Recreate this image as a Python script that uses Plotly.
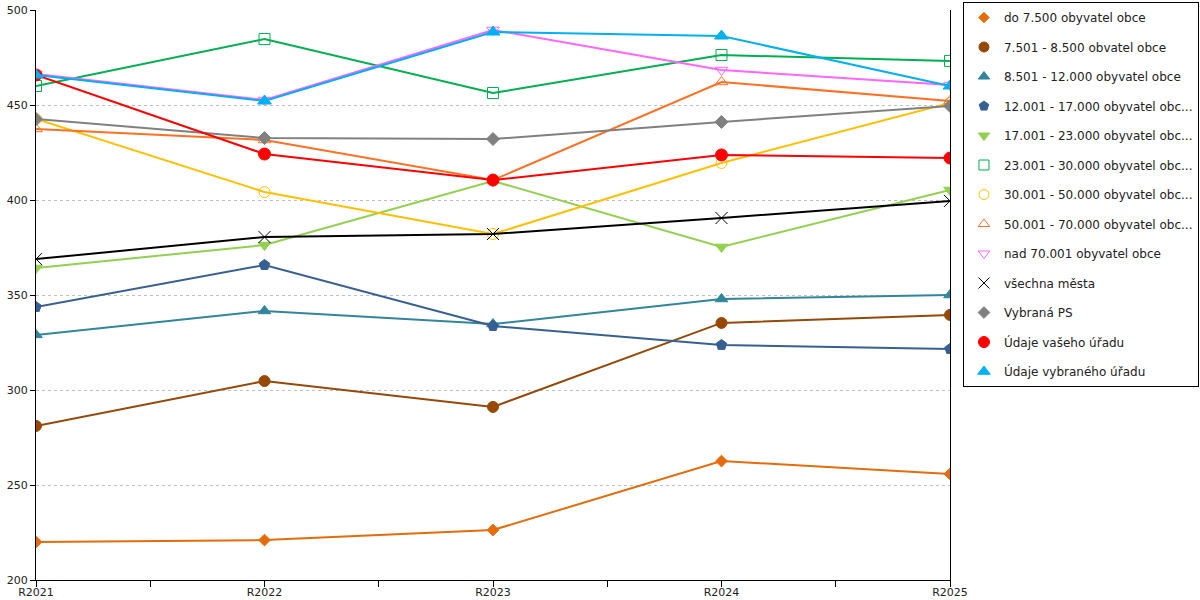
import plotly.graph_objects as go

# categories (years) on the x axis
roky = ["R2021", "R2022", "R2023", "R2024", "R2025"]

# series names as shown in the legend
nazvy = [
    "do 7.500 obyvatel obce",
    "7.501 - 8.500 obvatel obce",
    "8.501 - 12.000 obyvatel obce",
    "12.001 - 17.000 obyvatel obc...",
    "17.001 - 23.000 obyvatel obc...",
    "23.001 - 30.000 obyvatel obc...",
    "30.001 - 50.000 obyvatel obc...",
    "50.001 - 70.000 obyvatel obc...",
    "nad 70.001 obyvatel obce",
    "všechna města",
    "Vybraná PS",
    "Údaje vašeho úřadu",
    "Údaje vybraného úřadu",
]

# values, one list per series
do_7500 = [220.0, 221.0, 226.3, 262.6, 255.8]
od_7501 = [281.1, 304.7, 291.1, 335.3, 339.5]
od_8501 = [329.0, 341.6, 334.7, 347.9, 350.0]
od_12001 = [343.7, 365.8, 333.7, 323.7, 321.6]
od_17001 = [364.2, 376.3, 410.0, 375.3, 405.3]
od_23001 = [460.0, 484.7, 456.3, 476.3, 473.2]
od_30001 = [442.6, 404.2, 382.1, 419.5, 451.1]
od_50001 = [437.4, 431.6, 410.5, 462.1, 452.1]
nad_70001 = [466.3, 452.6, 489.5, 468.4, 460.5]
vsechna_mesta = [368.9, 380.5, 382.1, 390.5, 399.5]
vybrana_ps = [442.6, 432.6, 432.1, 441.1, 449.5]
vas_urad = [465.8, 424.2, 410.5, 423.7, 422.1]
vybrany_urad = [465.8, 452.1, 488.4, 486.3, 460.0]

hodnoty = [do_7500, od_7501, od_8501, od_12001, od_17001, od_23001, od_30001,
           od_50001, nad_70001, vsechna_mesta, vybrana_ps, vas_urad, vybrany_urad]

barvy = ["#E46C0A", "#974806", "#31859C", "#376092", "#92D050", "#00B050", "#FFC000",
         "#FF7022", "#FF66FF", "#000000", "#808080", "#FF0000", "#00B0F0"]
symboly = ["diamond", "circle", "triangle-up", "pentagon", "triangle-down", "square-open",
           "circle-open", "triangle-up-open", "triangle-down-open", "x-thin-open",
           "diamond", "circle", "triangle-up"]
velikosti = [9, 11, 11, 11, 11, 11, 11, 11, 11, 12, 10, 12, 12]

x_idx = list(range(len(roky)))

fig = go.Figure()

for i, nazev in enumerate(nazvy):
    # the line with its markers
    fig.add_trace(go.Scatter(
        x=x_idx, y=hodnoty[i],
        mode="lines+markers",
        line=dict(color=barvy[i], width=2),
        marker=dict(symbol=symboly[i], size=velikosti[i], color=barvy[i],
                    line=dict(color=barvy[i], width=1)),
        showlegend=False,
        name=nazev,
    ))
    # legend entry showing only the marker
    fig.add_trace(go.Scatter(
        x=[None], y=[None],
        mode="markers",
        marker=dict(symbol=symboly[i], size=velikosti[i] - 1, color=barvy[i],
                    line=dict(color=barvy[i], width=1)),
        name=nazev,
        legendgroup=f"g{i}",
    ))

fig.update_layout(
    width=1200, height=600,
    margin=dict(l=36, r=250, t=10, b=20, autoexpand=False),
    plot_bgcolor="white",
    paper_bgcolor="white",
    font=dict(family="DejaVu Sans", size=11, color="#222222"),
    legend=dict(
        x=1.2724, xanchor="right", y=1.014, yanchor="top",
        bordercolor="#000000", borderwidth=1,
        bgcolor="white",
        tracegroupgap=10.5,
        traceorder="grouped",
        itemwidth=30,
        maxheight=590,
        font=dict(family="DejaVu Sans", size=12, color="#222222"),
    ),
)

fig.update_xaxes(
    range=[0, len(roky) - 1],
    tickvals=x_idx, ticktext=roky,
    ticks="outside", ticklen=5, tickcolor="#000000",
    minor=dict(dtick=0.5, tick0=0, ticks="outside", ticklen=6, tickcolor="#000000", showgrid=False),
    showline=True, linecolor="#000000", linewidth=1,
    showgrid=False, zeroline=False,
    ticklabeloverflow="allow",
    ticklabelstandoff=-3,
)
fig.update_yaxes(
    range=[200, 500], dtick=50,
    ticks="outside", ticklen=5, tickcolor="#000000",
    showline=True, linecolor="#000000", linewidth=1, mirror=True,
    showgrid=True, gridcolor="#C0C0C0", griddash="dot", gridwidth=1,
    zeroline=False,
    ticklabeloverflow="allow",
)

# drop the default body margin so the figure sits at the page corner
fig.write_html("out.html", config={"displayModeBar": False},
               post_script="document.body.style.margin = '0';")
